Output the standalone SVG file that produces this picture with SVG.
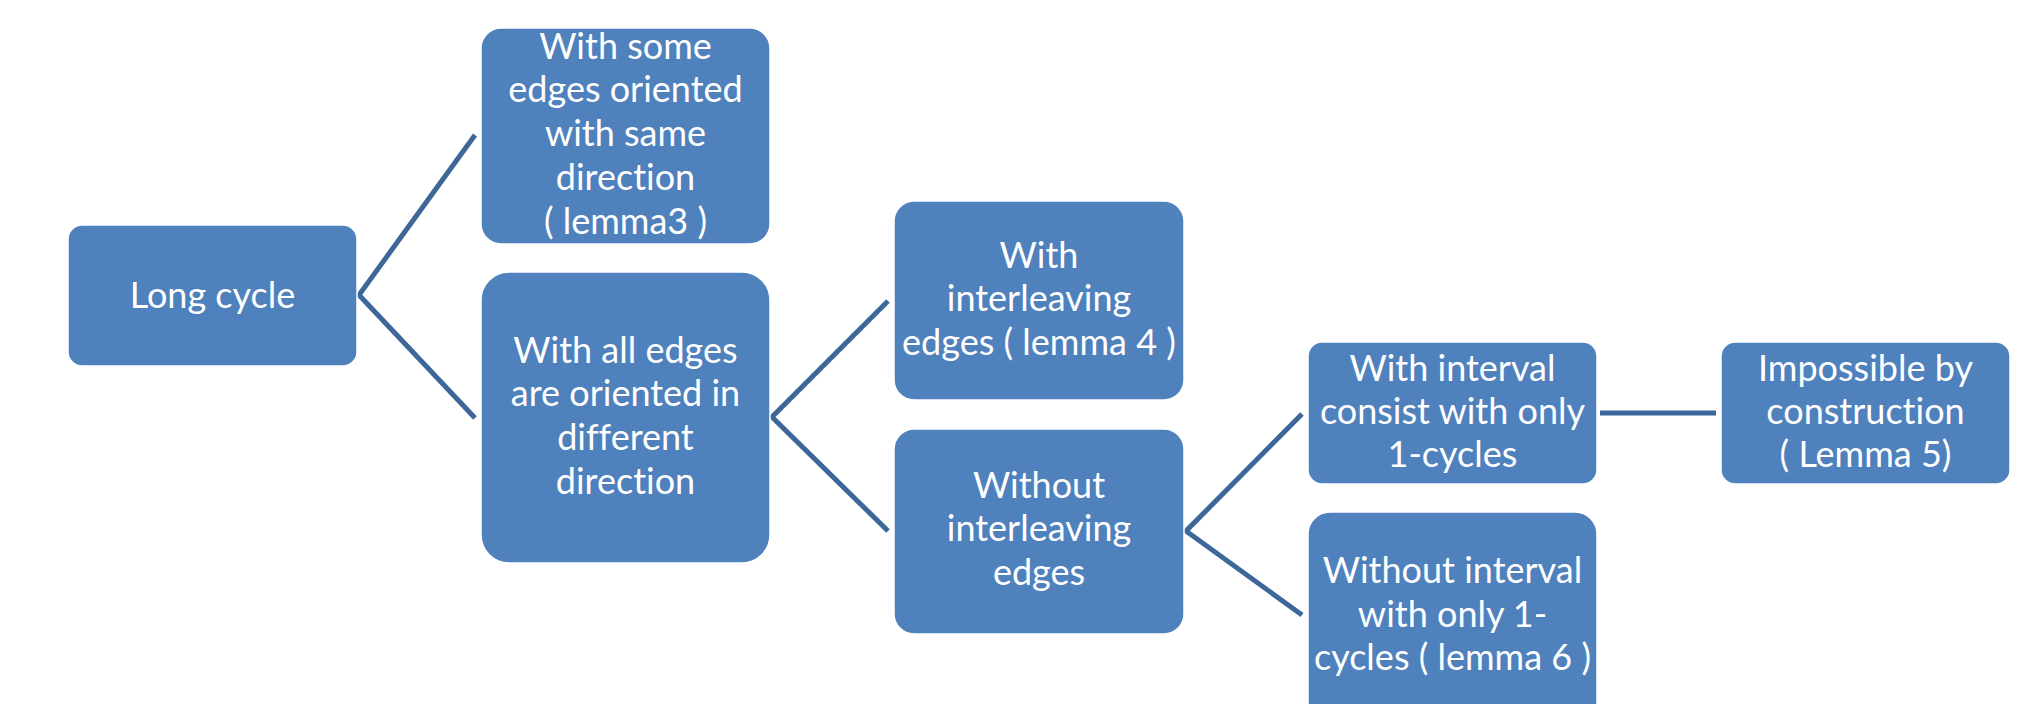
<svg xmlns="http://www.w3.org/2000/svg" width="2021" height="704" viewBox="0 0 2021 704">
<style>
.box{fill:#4F81BD;stroke:#FFFFFF;stroke-width:1.5}
.t{font-family:Lato,"Open Sans","Liberation Sans",sans-serif;font-size:36px;fill:#FFFFFF;text-anchor:middle;font-variant-ligatures:none;font-feature-settings:"liga" 0,"clig" 0,"dlig" 0}
.c{fill:none;stroke:#3D6799;stroke-width:5}
</style>
<rect width="2021" height="704" fill="#FFFFFF"/>
<g id="connectors">
<polyline class="c" points="475,135 359,295 475,418"/>
<polyline class="c" points="888,301 772,417 888,531"/>
<polyline class="c" points="1302,414 1186,531 1302,615"/>
<line class="c" x1="1600" y1="413" x2="1716" y2="413"/>
</g>
<g id="n1">
<rect class="box" x="68" y="225" width="289" height="141" rx="14"/>
<text class="t" x="212.5" y="308">Long cycle</text>
</g>
<g id="n2">
<rect class="box" x="481" y="28" width="289" height="216" rx="20"/>
<text class="t" x="625.5" y="59">With some</text>
<text class="t" x="625.5" y="102">edges oriented</text>
<text class="t" x="625.5" y="146">with same</text>
<text class="t" x="625.5" y="190">direction</text>
<text class="t" x="625.5" y="234">( lemma3 )</text>
</g>
<g id="n3">
<rect class="box" x="481" y="272" width="289" height="291" rx="28"/>
<text class="t" x="625.5" y="363">With all edges</text>
<text class="t" x="625.5" y="406">are oriented in</text>
<text class="t" x="625.5" y="450">different</text>
<text class="t" x="625.5" y="494">direction</text>
</g>
<g id="n4">
<rect class="box" x="894" y="201" width="290" height="199" rx="20"/>
<text class="t" x="1039" y="268">With</text>
<text class="t" x="1039" y="311">interleaving</text>
<text class="t" x="1039" y="355">edges ( lemma 4 )</text>
</g>
<g id="n5">
<rect class="box" x="894" y="429" width="290" height="205" rx="20"/>
<text class="t" x="1039" y="498">Without</text>
<text class="t" x="1039" y="541">interleaving</text>
<text class="t" x="1039" y="585">edges</text>
</g>
<g id="n6">
<rect class="box" x="1308" y="342" width="289" height="142" rx="14"/>
<text class="t" x="1452.5" y="381">With interval</text>
<text class="t" x="1452.5" y="424">consist with only</text>
<text class="t" x="1452.5" y="467">1-cycles</text>
</g>
<g id="n7">
<rect class="box" x="1721" y="342" width="289" height="142" rx="14"/>
<text class="t" x="1865.5" y="381">Impossible by</text>
<text class="t" x="1865.5" y="424">construction</text>
<text class="t" x="1865.5" y="467">( Lemma 5)</text>
</g>
<g id="n8">
<rect class="box" x="1308" y="512" width="289" height="230" rx="22"/>
<text class="t" x="1452.5" y="583">Without interval</text>
<text class="t" x="1452.5" y="627">with only 1-</text>
<text class="t" x="1452.5" y="670">cycles ( lemma 6 )</text>
</g>
</svg>
